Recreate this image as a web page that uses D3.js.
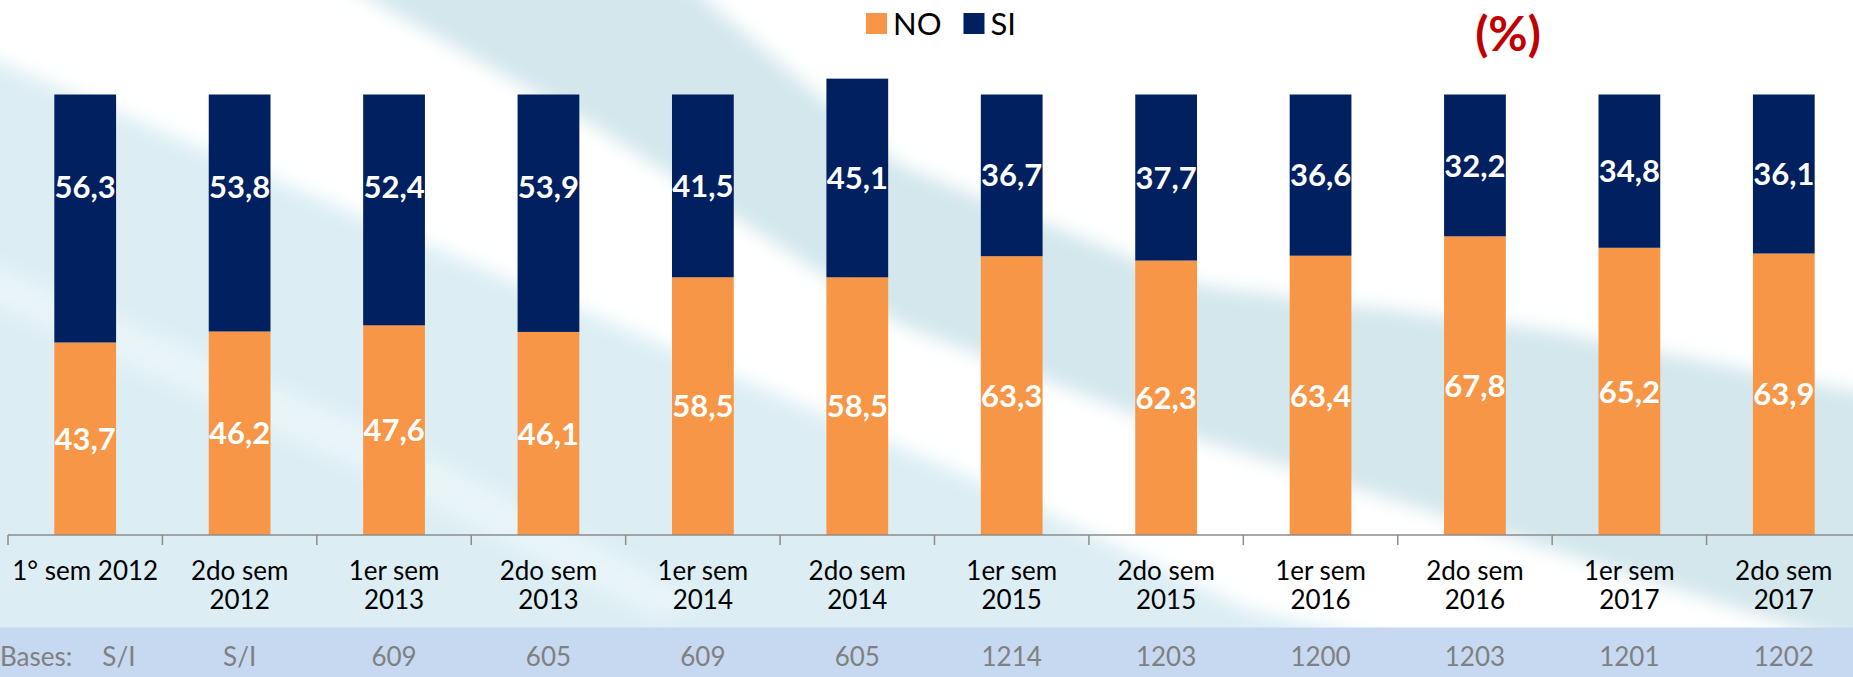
<!DOCTYPE html>
<html>
<head>
<meta charset="utf-8">
<script src="https://cdn.jsdelivr.net/npm/d3@7"></script>
<style>
  html, body { margin: 0; padding: 0; background: #fff; overflow: hidden; }
  svg { display: block; font-family: Lato, "Open Sans", sans-serif; }
</style>
</head>
<body>
<div id="chart"></div>
<script>
// --- data ---
var categories = ["1° sem 2012", "2do sem\n2012", "1er sem\n2013", "2do sem\n2013",
                  "1er sem\n2014", "2do sem\n2014", "1er sem\n2015", "2do sem\n2015",
                  "1er sem\n2016", "2do sem\n2016", "1er sem\n2017", "2do sem\n2017"];
var noValues = [43.7, 46.2, 47.6, 46.1, 58.5, 58.5, 63.3, 62.3, 63.4, 67.8, 65.2, 63.9];
var siValues = [56.3, 53.8, 52.4, 53.9, 41.5, 45.1, 36.7, 37.7, 36.6, 32.2, 34.8, 36.1];
var bases = ["S/I", "S/I", "609", "605", "609", "605", "1214", "1203", "1200", "1203", "1201", "1202"];
var seriesKeys = ["NO", "SI"];
var seriesColors = ["#F79646", "#002060"];

var width = 1853, height = 677;
var baseY = 535, topY = 94.5;

var rows = categories.map((c, i) => ({cat: c, NO: noValues[i], SI: siValues[i]}));

var fmt = d3.formatLocale({decimal: ",", thousands: ".", grouping: [3], currency: ["", ""]}).format(".1f");

var svg = d3.select("#chart").append("svg")
    .attr("width", width)
    .attr("height", height);

// --- background swooshes ---
var defs = svg.append("defs");
defs.append("filter")
    .attr("id", "soft")
    .attr("x", "-10%").attr("y", "-10%").attr("width", "120%").attr("height", "120%")
    .append("feGaussianBlur").attr("stdDeviation", 9);

svg.append("rect").attr("width", width).attr("height", height).attr("fill", "#DCEEF4");

var poly = d3.line().curve(d3.curveLinearClosed);
var bg = svg.append("g").attr("filter", "url(#soft)");
// gray-blue band
bg.append("path").attr("fill", "#D3E7EC")
    .attr("d", poly([[300, -40], [660, -40], [900, 165], [1200, 285], [1550, 330], [1900, 400],
                     [1900, 660], [1200, 440], [900, 325], [600, 130]]));
// white band from the top-left
bg.append("path").attr("fill", "#fff")
    .attr("d", poly([[-40, -40], [300, -40], [600, 130], [900, 325], [1200, 440], [1900, 660],
                     [1900, 760], [1250, 610], [1000, 490], [600, 318], [-40, 45]]));
// white region in the top right
bg.append("path").attr("fill", "#fff")
    .attr("d", poly([[660, -40], [1900, -40], [1900, 400], [1550, 330], [1200, 285], [900, 165]]));
// faint light streak lower left
bg.append("path").attr("fill", "#fff").attr("opacity", 0.35)
    .attr("d", poly([[-40, 250], [400, 440], [700, 600], [660, 620], [360, 470], [-40, 290]]));

// bases strip
svg.append("rect")
    .attr("x", 0).attr("y", 627.5)
    .attr("width", width).attr("height", height - 627.5)
    .attr("fill", "#C6D9F1");

// --- scales ---
var x = d3.scaleBand()
    .domain(categories)
    .range([8, 1861])
    .paddingInner(0.6)
    .paddingOuter(0.3);

var y = d3.scaleLinear()
    .domain([0, 100])
    .range([baseY, topY]);

var stacked = d3.stack().keys(seriesKeys)(rows);

// --- bars ---
var layers = svg.append("g")
    .selectAll("g")
    .data(stacked)
    .join("g")
    .attr("fill", (d, i) => seriesColors[i]);

layers.selectAll("rect")
    .data(d => d)
    .join("rect")
    .attr("x", d => x(d.data.cat))
    .attr("y", d => y(d[1]))
    .attr("width", x.bandwidth())
    .attr("height", d => y(d[0]) - y(d[1]));

// --- value labels ---
var labels = svg.append("g")
    .attr("text-anchor", "middle")
    .style("font-size", "31px")
    .style("font-weight", "bold")
    .attr("fill", "#fff");

// labels sit mid-segment, but never lower than ~92px under the 100% line
var labelCap = y(100) + 92;
stacked.forEach(layer => {
    labels.selectAll(null)
        .data(layer)
        .join("text")
        .attr("x", d => x(d.data.cat) + x.bandwidth() / 2)
        .attr("y", d => {
            var mid = (y(d[0]) + y(d[1])) / 2;
            return layer.key === "SI" ? Math.min(mid, labelCap) : mid;
        })
        .attr("dy", "0.36em")
        .text(d => fmt(d[1] - d[0]));
});

// --- axis line with ticks at category boundaries ---
var gap = x.step() * x.paddingInner() / 2;
var bounds = categories.map(c => x(c) - gap);
bounds.push(x(categories[categories.length - 1]) + x.bandwidth() + gap);

var axis = svg.append("g").attr("stroke", "#8C8C8C").attr("stroke-width", 1.5);
axis.append("line")
    .attr("x1", bounds[0]).attr("x2", width)
    .attr("y1", baseY).attr("y2", baseY);
axis.selectAll(".tick")
    .data(bounds)
    .join("line")
    .attr("x1", d => d).attr("x2", d => d)
    .attr("y1", baseY).attr("y2", baseY + 10);

// category labels
var catText = svg.append("g")
    .attr("text-anchor", "middle")
    .style("font-size", "26px")
    .attr("fill", "#000")
    .selectAll("text")
    .data(categories)
    .join("text")
    .attr("x", d => x(d) + x.bandwidth() / 2)
    .attr("y", 580);

catText.selectAll("tspan")
    .data(d => d.split("\n"))
    .join("tspan")
    .attr("x", function() { return this.parentNode.getAttribute("x"); })
    .attr("dy", (d, i) => i === 0 ? 0 : 29)
    .text(d => d);

// --- bases row ---
var basesG = svg.append("g")
    .style("font-size", "26px")
    .attr("fill", "#808080");

var basesLabel = basesG.append("text")
    .attr("x", 0)
    .attr("y", 666)
    .text("Bases:");
var labelEnd = basesLabel.node().getComputedTextLength();

basesG.selectAll(".base")
    .data(bases)
    .join("text")
    .attr("class", "base")
    .attr("text-anchor", "middle")
    .attr("y", 666)
    .text(d => d)
    .attr("x", function(d, i) {
        var cx = x(categories[i]) + x.bandwidth() / 2;
        var half = this.getComputedTextLength() / 2;
        return Math.max(cx, labelEnd + 30 + half);
    });

// --- legend ---
var legend = svg.append("g").style("font-size", "31px");
var lx = 866;
seriesKeys.forEach((k, i) => {
    legend.append("rect")
        .attr("x", lx).attr("y", 13)
        .attr("width", 21).attr("height", 21)
        .attr("fill", seriesColors[i]);
    var t = legend.append("text")
        .attr("x", lx + 27).attr("y", 35)
        .attr("fill", "#000")
        .text(k);
    lx += 27 + t.node().getComputedTextLength() + 22;
});

// --- unit note ---
svg.append("text")
    .attr("x", 1508).attr("y", 51)
    .attr("text-anchor", "middle")
    .style("font-size", "48px")
    .style("font-weight", "bold")
    .attr("fill", "#C00000")
    .text("(%)");
</script>
</body>
</html>
